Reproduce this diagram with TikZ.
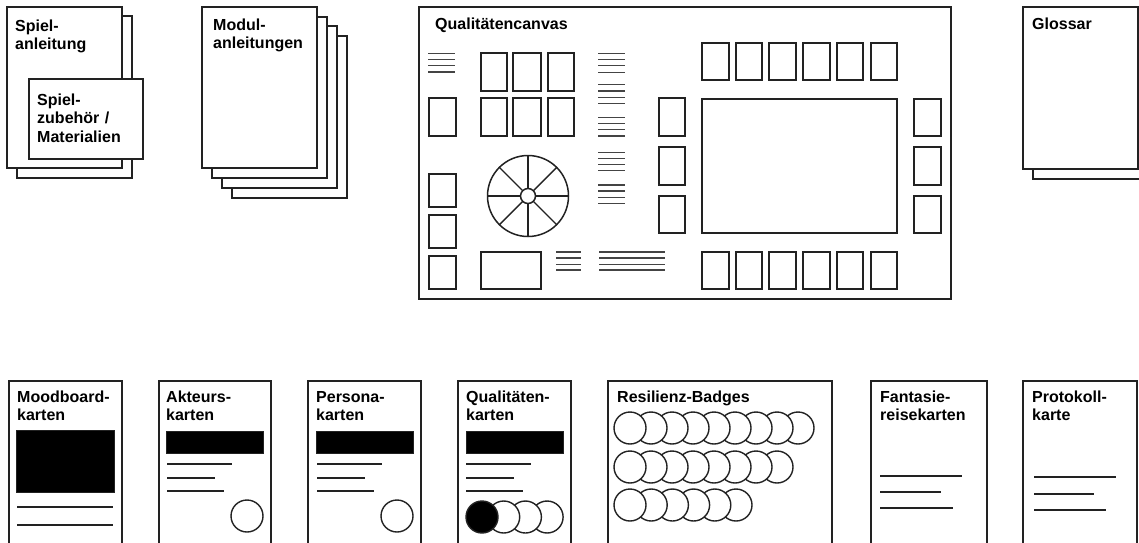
\documentclass[tikz,border=0pt]{standalone}
\usepackage{fontspec}
\setmainfont{Liberation Sans}
\definecolor{ink}{HTML}{222222}
\definecolor{thin}{HTML}{444444}
\tikzset{
  frame/.style={draw=ink, line width=1.8pt, fill=white},
  cell/.style={draw=ink, line width=1.8pt, fill=white},
  hl/.style={draw=thin, line width=1.4pt},
  cl/.style={draw=ink, line width=1.6pt},
  blk/.style={fill=black, draw=ink, line width=0.8pt},
  txt/.style={font=\bfseries\fontsize{16}{18.5}\selectfont, anchor=base west, inner sep=0pt, text width=150pt, align=left, text=black},
  badge/.style={draw=ink, line width=1.4pt, fill=white},
}
\begin{document}
\begin{tikzpicture}[x=1pt, y=-1pt]
\useasboundingbox (0,0) rectangle (1139,542);
\clip (0,0) rectangle (1139,542);
\fill[white] (0,0) rectangle (1139,542);

% Spielanleitung + Spielzubehoer
\draw[frame] (17,16) rectangle (132,178);
\draw[frame] (7,7) rectangle (122,168);
\node[txt] (tspiel) at (15,31) {Spiel-\\anleitung};
\draw[frame] (29,79) rectangle (143,159);
\node[txt] (tzub) at (37,105) {Spiel-\\zubehör /\\Materialien};

% Modulanleitungen
\foreach \i in {3,2,1,0} {
  \draw[frame] ({202+10*\i},{7+9.67*\i}) rectangle ({317+10*\i},{168+10*\i});
}
\node[txt] (tmod) at (213,30) {Modul-\\anleitungen};

% Qualitaetencanvas
\draw[frame] (419,7) rectangle (951,299);
\node[txt] (tcanvas) at (435,29) {Qualitätencanvas};
% left top lines
\foreach \y in {53.3,59.3,65.7,72} \draw[hl] (428,\y) -- (455,\y);
% 3x2 grid
\foreach \xa/\xb in {481/507,513/541,548/574} {
  \draw[cell] (\xa,53) rectangle (\xb,91);
  \draw[cell] (\xa,98) rectangle (\xb,136);
}
% left column
\draw[cell] (429,98) rectangle (456,136);
\draw[cell] (429,174) rectangle (456,207);
\draw[cell] (429,215) rectangle (456,248);
\draw[cell] (429,256) rectangle (456,289);
% wheel
\draw[cell, line width=1.5pt] (528,196) circle[radius=40.5];
\foreach \a in {0,45,...,315} \draw[line width=1.4pt, draw=ink] (528,196) ++(\a:7.5) -- ++(\a:33);
\draw[cell, line width=1.5pt] (528,196) circle[radius=7.5];
% bottom rect and lines
\draw[cell] (481,252) rectangle (541,289);
\foreach \y in {252,258,264.3,270} {
  \draw[hl] (556,\y) -- (581,\y);
  \draw[hl] (599,\y) -- (665,\y);
}
% middle column line groups
\foreach \y in {53.3,59.3,65.7,72.3, 84.3,91,97.3,103.3, 117.3,123.3,129.3,136, 152.3,158.3,164.3,170.3, 185,191,197.7,203.3}
  \draw[hl] (598,\y) -- (625,\y);
% middle-right column
\draw[cell] (659,98) rectangle (685,136);
\draw[cell] (659,147) rectangle (685,185);
\draw[cell] (659,196) rectangle (685,233);
% top and bottom rows
\foreach \xa/\xb in {702/729,736/762,769/796,803/830,837/863,871/897} {
  \draw[cell] (\xa,43) rectangle (\xb,80);
  \draw[cell] (\xa,252) rectangle (\xb,289);
}
% big rect
\draw[cell] (702,99) rectangle (897,233);
% right column
\draw[cell] (914,99) rectangle (941,136);
\draw[cell] (914,147) rectangle (941,185);
\draw[cell] (914,196) rectangle (941,233);

% Glossar
\draw[frame] (1033,16) rectangle (1160,179);
\draw[frame] (1023,7) rectangle (1138,169);
\node[txt] (tglos) at (1032,29) {Glossar};

% ---- bottom row cards ----
% Moodboard
\draw[frame] (9,381) rectangle (122,560);
\node[txt] (tmood) at (17,402) {Moodboard-\\karten};
\draw[blk] (16,430) rectangle (114,492);
\draw[cl] (17,507) -- (113,507);
\draw[cl] (17,525) -- (113,525);

% Akteurs
\draw[frame] (159,381) rectangle (271,560);
\node[txt] (takt) at (166,402) {Akteurs-\\karten};
\draw[blk] (166,431) rectangle (263,453);
\draw[cl] (167,464) -- (232,464);
\draw[cl] (167,478) -- (215,478);
\draw[cl] (167,491) -- (224,491);
\draw[badge] (247,516) circle[radius=16];

% Persona
\draw[frame] (308,381) rectangle (421,560);
\node[txt] (tpers) at (316,402) {Persona-\\karten};
\draw[blk] (316,431) rectangle (413,453);
\draw[cl] (317,464) -- (382,464);
\draw[cl] (317,478) -- (365,478);
\draw[cl] (317,491) -- (374,491);
\draw[badge] (397,516) circle[radius=16];

% Qualitaetenkarten
\draw[frame] (458,381) rectangle (571,560);
\node[txt] (tqual) at (466,402) {Qualitäten-\\karten};
\draw[blk] (466,431) rectangle (563,453);
\draw[cl] (466,464) -- (531,464);
\draw[cl] (466,478) -- (514,478);
\draw[cl] (466,491) -- (523,491);
\foreach \k in {3,2,1} \draw[badge] ({482+21.7*\k},517) circle[radius=16];
\draw[badge, fill=black] (482,517) circle[radius=16];

% Resilienz-Badges
\draw[frame] (608,381) rectangle (832,560);
\node[txt] (tres) at (617,402) {Resilienz-Badges};
\foreach \k in {8,7,...,0} \draw[badge] ({630+21*\k},428) circle[radius=16];
\foreach \k in {7,6,...,0} \draw[badge] ({630+21*\k},467) circle[radius=16];
\foreach \k in {5,4,...,0} \draw[badge] ({630+21.2*\k},505) circle[radius=16];

% Fantasiereisekarten
\draw[frame] (871,381) rectangle (987,560);
\node[txt] (tfan) at (880,402) {Fantasie-\\reisekarten};
\draw[cl] (880,476) -- (962,476);
\draw[cl] (880,492) -- (941,492);
\draw[cl] (880,508) -- (953,508);

% Protokollkarte
\draw[frame] (1023,381) rectangle (1137,560);
\node[txt] (tprot) at (1032,402) {Protokoll-\\karte};
\draw[cl] (1034,477) -- (1116,477);
\draw[cl] (1034,494) -- (1094,494);
\draw[cl] (1034,510) -- (1106,510);
\end{tikzpicture}
\end{document}
